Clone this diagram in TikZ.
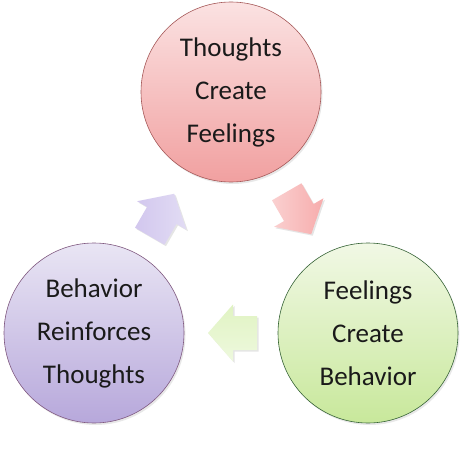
\documentclass[tikz,border=0pt]{standalone}
\usepackage{fontspec}
\setmainfont{Carlito}
\usetikzlibrary{shadows}
\definecolor{txt}{HTML}{1A1A1A}
\tikzset{
  cyc/.style={circle, minimum size=180pt, inner sep=0pt, draw=#1, line width=0.6pt,
    drop shadow={opacity=0.18, shadow xshift=1.5pt, shadow yshift=-2pt},
    align=center, text=txt, font=\fontsize{27}{43}\selectfont},
  blkshadow/.style={fill=black, opacity=0.10}
}
\newcommand{\blkpath}{(24.5,0) -- (-0.5,28.5) -- (-0.5,17) -- (-24.5,17) -- (-24.5,-17) -- (-0.5,-17) -- (-0.5,-28.5) -- cycle}
\begin{document}
\begin{tikzpicture}[x=1pt,y=1pt]
\useasboundingbox (0,0) rectangle (466,-460);
\fill[white] (0,0) rectangle (466,-460);
\node[cyc=gray!70!red, top color={rgb,255:red,251;green,226;blue,226}, bottom color={rgb,255:red,241;green,160;blue,160}] (thoughts) at (231,-92) {Thoughts\\Create\\Feelings};
\node[cyc=gray!70!green!60!black, top color={rgb,255:red,241;green,248;blue,229}, bottom color={rgb,255:red,200;green,232;blue,155}] (feelings) at (368,-333) {Feelings\\Create\\Behavior};
\node[cyc=gray!70!violet, top color={rgb,255:red,233;green,229;blue,244}, bottom color={rgb,255:red,183;green,168;blue,219}] (behavior) at (94,-333) {Behavior\\Reinforces\\Thoughts};
\coordinate (a1) at (299,-213);
\coordinate (a2) at (232.5,-333);
\coordinate (a3) at (162,-215);
% red arrow
\begin{scope}[shift={(a1)}, xshift=1.5pt, yshift=-1.5pt, rotate=-60]
  \fill[blkshadow] \blkpath;
\end{scope}
\begin{scope}[shift={(a1)}, rotate=-60]
  \shade[left color={rgb,255:red,250;green,208;blue,208}, right color={rgb,255:red,247;green,172;blue,172}] \blkpath;
\end{scope}
% green arrow
\begin{scope}[shift={(a2)}, xshift=1.5pt, yshift=-1.5pt, rotate=180]
  \fill[blkshadow] \blkpath;
\end{scope}
\begin{scope}[shift={(a2)}, rotate=180]
  \shade[top color={rgb,255:red,224;green,243;blue,194}, bottom color={rgb,255:red,238;green,249;blue,222}] \blkpath;
\end{scope}
% purple arrow
\begin{scope}[shift={(a3)}, xshift=1.5pt, yshift=-1.5pt, rotate=60]
  \fill[blkshadow] \blkpath;
\end{scope}
\begin{scope}[shift={(a3)}, rotate=60]
  \shade[left color={rgb,255:red,210;green,199;blue,238}, right color={rgb,255:red,226;green,220;blue,244}] \blkpath;
\end{scope}
\end{tikzpicture}
\end{document}
